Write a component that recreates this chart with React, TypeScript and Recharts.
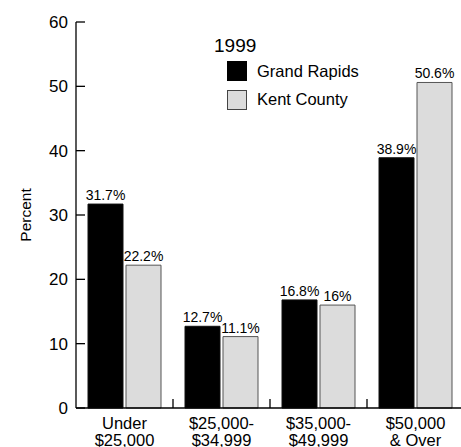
import { BarChart, Bar, XAxis, YAxis, LabelList } from 'recharts'

const categories = ['Under|$25,000', '$25,000-|$34,999', '$35,000-|$49,999', '$50,000|& Over']
const grandRapids = [31.7, 12.7, 16.8, 38.9]
const kentCounty = [22.2, 11.1, 16, 50.6]
const yTicks = [0, 10, 20, 30, 40, 50, 60]

const data = categories.map((name, i) => ({
  name,
  gr: grandRapids[i],
  kent: kentCounty[i],
}))

const FONT = 'Arial, "Liberation Sans", Helvetica, sans-serif'
const BAND = 388 / categories.length

// eslint-disable-next-line @typescript-eslint/no-explicit-any
const YTick = (props: any) => {
  const { x, y, payload } = props
  return (
    <g>
      <line x1={x} x2={x + 9} y1={y} y2={y} stroke="#000" strokeWidth={1.3} />
      <text x={x - 8} y={y} dy={6} textAnchor="end" fontSize={17} fill="#000" fontFamily={FONT}>
        {payload.value}
      </text>
    </g>
  )
}

// eslint-disable-next-line @typescript-eslint/no-explicit-any
const XTick = (props: any) => {
  const { x, y, payload, index } = props
  const [l1, l2] = String(payload.value).split('|')
  return (
    <g>
      {index > 0 && (
        <line x1={x - BAND / 2} x2={x - BAND / 2} y1={y} y2={y - 9} stroke="#000" strokeWidth={1.3} />
      )}
      <text x={x} y={y + 21} textAnchor="middle" fontSize={16.5} fill="#000" fontFamily={FONT}>
        {l1}
      </text>
      <text x={x} y={y + 38} textAnchor="middle" fontSize={16.5} fill="#000" fontFamily={FONT}>
        {l2}
      </text>
    </g>
  )
}

const legendItems = [
  { label: 'Grand Rapids', fill: '#000', stroke: '#000' },
  { label: 'Kent County', fill: '#dcdcdc', stroke: '#444' },
]

const LegendBox = () => (
  <div style={{ position: 'absolute', left: 227, top: 35, fontFamily: FONT, color: '#000' }}>
    <div style={{ fontSize: 19, marginLeft: -13, lineHeight: '22px' }}>1999</div>
    {legendItems.map((it) => (
      <div key={it.label} style={{ display: 'flex', alignItems: 'center', height: 28.5 }}>
        <div
          style={{
            width: 18,
            height: 18,
            background: it.fill,
            border: `1px solid ${it.stroke}`,
            marginRight: 10,
          }}
        />
        <span style={{ fontSize: 16.5 }}>{it.label}</span>
      </div>
    ))}
  </div>
)

const pct = (v: unknown) => `${v}%`

export default function App() {
  return (
    <div
      style={{
        position: 'absolute',
        left: 0,
        top: 0,
        width: 461,
        height: 447,
        overflow: 'hidden',
        background: '#fff',
      }}
    >
      <BarChart
        width={470}
        height={447}
        data={data}
        margin={{ top: 22, right: 6, bottom: 0, left: 0 }}
        barSize={35}
        barGap={3}
      >
        <XAxis
          dataKey="name"
          height={39}
          tickSize={0}
          tickMargin={0}
          tick={<XTick />}
          axisLine={{ stroke: '#000', strokeWidth: 1.3 }}
          interval={0}
        />
        <YAxis
          width={76}
          domain={[0, 60]}
          ticks={yTicks}
          tickSize={0}
          tickMargin={0}
          tick={<YTick />}
          axisLine={{ stroke: '#000', strokeWidth: 1.3 }}
          label={{
            value: 'Percent',
            angle: -90,
            position: 'insideLeft',
            offset: 25,
            style: { textAnchor: 'middle', fontSize: 15.5, fill: '#000', fontFamily: FONT },
          }}
        />
        <Bar dataKey="gr" name="Grand Rapids" fill="#000" stroke="#111" isAnimationActive={false}>
          <LabelList
            dataKey="gr"
            position="top"
            offset={4}
            formatter={pct}
            style={{ fontSize: 14, fill: '#000', fontFamily: FONT }}
          />
        </Bar>
        <Bar dataKey="kent" name="Kent County" fill="#dcdcdc" stroke="#555" isAnimationActive={false}>
          <LabelList
            dataKey="kent"
            position="top"
            offset={4}
            formatter={pct}
            style={{ fontSize: 14, fill: '#000', fontFamily: FONT }}
          />
        </Bar>
      </BarChart>
      <LegendBox />
    </div>
  )
}
